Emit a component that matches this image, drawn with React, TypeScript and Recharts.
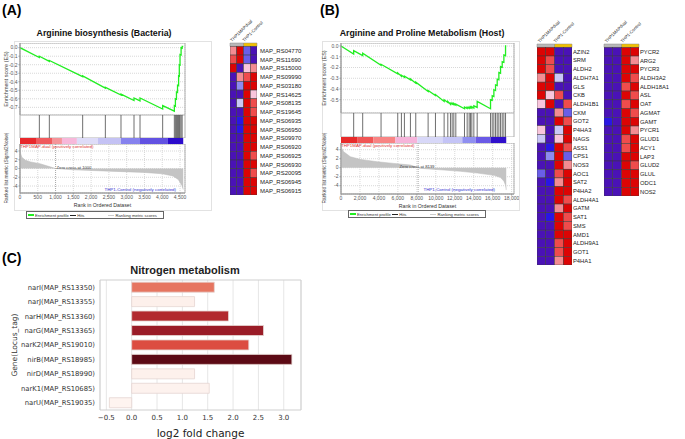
import React from "react"
import {
  LineChart, Line, AreaChart, Area, ComposedChart, ScatterChart, Scatter, BarChart, Bar, Cell,
  XAxis, YAxis, CartesianGrid, ReferenceLine, ReferenceArea,
} from "recharts"

const SANS = "'Liberation Sans', Arial, sans-serif"
const DEJAVU = "'DejaVu Sans', sans-serif"

// ---------- (A) Arginine biosynthesis (Bacteria) ----------
const hitsA = [544, 825, 1762, 2400, 2840, 3206, 3375, 4012, 4340, 4370, 4400, 4430, 4460, 4480, 4500, 4530, 4560]
const esBeforeA = [-0.115, -0.16, -0.34, -0.475, -0.555, -0.62, -0.625, -0.72, -0.745, -0.686, -0.606, -0.526, -0.446, -0.334, -0.204, -0.086, -0.006]
const esAfterA = [-0.1, -0.15, -0.33, -0.465, -0.545, -0.59, -0.59, -0.68, -0.68, -0.6, -0.52, -0.44, -0.33, -0.2, -0.08, 0, 0.015]
const esEndA = 4590
const rankA = [0, 10, 50, 150, 300, 560, 800, 1000, 1500, 2500, 3500, 4000, 4300, 4450, 4550, 4590]
const metricA = [4.7, 3.6, 2.6, 1.9, 1.5, 1.1, 0.5, 0, -0.3, -0.6, -0.9, -1.2, -1.7, -2.5, -3.8, -4.8]
const barStartA = [0, 450, 900, 1180, 1600, 2190, 2840, 3375, 4160]
const barEndA = [450, 900, 1180, 1600, 2190, 2840, 3375, 4160, 4590]
const barColorsA = ["#e8282c", "#f05a5e", "#f5949a", "#f7b8da", "#dedcf8", "#c4c2f4", "#8682ee", "#6252e2", "#2c0ccc"]
const xTicksA = [0, 500, 1000, 1500, 2000, 2500, 3000, 3500, 4000, 4500]
const esTicksA = [0, -0.1, -0.2, -0.3, -0.4, -0.5, -0.6, -0.7]
const zeroCrossA = 1000

// ---------- (B) Arginine and Proline Metabolism (Host) ----------
const hitsB = [1338, 2289, 4225, 5986, 6373, 6690, 7324, 7887, 9190, 9964, 10880, 11267, 11549, 11725, 11901, 12112, 13028, 13310, 13521, 13661, 13802, 14014, 14366, 15774, 15950, 16126, 16302, 16478, 16654, 16830, 17006, 17182, 17358]
const esBeforeB = [-0.074, -0.09, -0.179, -0.259, -0.281, -0.29, -0.315, -0.346, -0.423, -0.46, -0.515, -0.525, -0.543, -0.54, -0.546, -0.549, -0.583, -0.58, -0.58, -0.577, -0.577, -0.577, -0.571, -0.583, -0.506, -0.469, -0.414, -0.367, -0.315, -0.253, -0.198, -0.151, -0.09]
const esAfterB = [-0.043, -0.068, -0.17, -0.25, -0.272, -0.281, -0.306, -0.336, -0.414, -0.451, -0.5, -0.515, -0.531, -0.531, -0.534, -0.54, -0.568, -0.568, -0.568, -0.565, -0.565, -0.556, -0.515, -0.5, -0.463, -0.407, -0.361, -0.309, -0.247, -0.191, -0.145, -0.083, 0]
const esEndB = 17430
const rankB = [0, 280, 986, 2042, 3803, 5563, 7324, 8139, 8450, 10880, 12640, 14400, 16161, 16830, 17180, 17360, 17430]
const metricB = [4.6, 3.55, 2.44, 1.85, 1.33, 0.96, 0.59, 0, -0.15, -0.52, -0.81, -1.19, -1.7, -2.2, -2.96, -3.9, -4.96]
const barStartB = [0, 1700, 3400, 5740, 8060, 10700, 12800, 14200, 15770]
const barEndB = [1700, 3400, 5740, 8060, 10700, 12800, 14200, 15770, 17430]
const barColorsB = ["#e82a2a", "#f05555", "#f88484", "#f6b4da", "#d8d8f8", "#c4c4f6", "#8f8ff0", "#6a5ae6", "#3010cc"]
const xTicksB = [0, 2000, 4000, 6000, 8000, 10000, 12000, 14000, 16000, 18000]
const esTicksB = [0, -0.1, -0.2, -0.3, -0.4, -0.5]
const zeroCrossB = 8139

// ---------- heatmaps ----------
const heatGroups = ["THP1MAPdual", "THP1-Control"]
const heatGenesA = ["MAP_RS04770", "MAP_RS11690", "MAP_RS15000", "MAP_RS09990", "MAP_RS03180", "MAP_RS14625", "MAP_RS08135", "MAP_RS19645", "MAP_RS06935", "MAP_RS06950", "MAP_RS09970", "MAP_RS06920", "MAP_RS06925", "MAP_RS06930", "MAP_RS20095", "MAP_RS06945", "MAP_RS06915"]
const heatValuesA = [
  [1.5, 3, -2, -3], [2, 3, -2, -3], [3, -3, 1, 1.5], [-3, 1.5, 2, 3], [-3, -1.5, 3, 3],
  [-3, -3, 3, 1], [-3, -1, 3, 2], [-3, -3, 3, 2], [-3, -2.5, 3, 3], [-3, -2.5, 3, 3],
  [-3, -3, 3, 3], [-3, -3, 3, 3], [-3, -3, 3, 2], [-3, -3, 3, 3], [-3, -3, 3, 2],
  [-3, -3, 3, 3], [-3, -3, 3, 3],
]
const heatGenesB1 = ["AZIN2", "SRM", "ALDH2", "ALDH7A1", "GLS", "CKB", "ALDH1B1", "CKM", "GOT2", "P4HA3", "NAGS", "ASS1", "CPS1", "NOS3", "AOC1", "SAT2", "P4HA2", "ALDH4A1", "GATM", "SAT1", "SMS", "AMD1", "ALDH9A1", "GOT1", "P4HA1"]
const heatValuesB1 = [
  [3, 3, -3, -3], [3, 2, -3, -3], [3, 2, -3, -3], [1.5, 3, -1, -3], [3, 3, -3, -3],
  [3, 1, 2, -3], [1, 3, -3, 2], [-3, -3, 1.5, -2], [-3, -3, 3, 2], [1, -3, -1, 3],
  [-1, -3, 1, 3], [-3, -2.5, 3, 2], [-3, -1.5, 3, -2], [-3, -3, 3, 1.5], [-2, -3, 2, 3],
  [-3, -2.5, 1.5, 3], [-3, -3, 3, 3], [-3, -3, 3, 2], [-3, -3, 1.5, 3], [-3, -2.5, 3, 2],
  [-3, -3, 3, 2], [-3, -3, 3, 3], [-3, -3, 2, 3], [-3, -3, 2, 3], [-3, -3, 1.5, 3],
]
const heatGenesB2 = ["PYCR2", "ARG2", "PYCR3", "ALDH3A2", "ALDH18A1", "ASL", "OAT", "AGMAT", "GAMT", "PYCR1", "GLUD1", "ACY1", "LAP3", "GLUD2", "GLUL", "ODC1", "NOS2"]
const heatValuesB2 = [
  [-3, -3, 3, 3], [-3, -3, 3, 1.5], [-3, -3, 3, 3], [-3, -3, 3, 2], [-3, -3, 2, 3],
  [-3, -3, 3, 2], [-3, -3, 2, 3], [-3, -3, 3, 2], [-2.5, -3, 3, 3], [-3, -3, 3, 1.5],
  [-3, -3, 2, 3], [-3, -3, 2, 3], [-3, -3, 3, 3], [-3, -3, 3, 2], [-3, -3, 3, 3],
  [-3, -3, 3, 3], [-3, -3, 3, 3],
]

// ---------- (C) Nitrogen metabolism ----------
const genesC = ["narI(MAP_RS13350)", "narJ(MAP_RS13355)", "narH(MAP_RS13360)", "narG(MAP_RS13365)", "narK2(MAP_RS19010)", "nirB(MAP_RS18985)", "nirD(MAP_RS18990)", "narK1(MAP_RS10685)", "narU(MAP_RS19035)"]
const lfcC = [1.63, 1.24, 1.91, 2.6, 2.31, 3.16, 1.24, 1.53, -0.44]
const colorsC = ["#e67560", "#fdf0eb", "#b22a2e", "#9a1c27", "#dc4d41", "#5c0a15", "#fdf1ec", "#fdf2ee", "#fef4f0"]
const xTicksC = [-0.5, 0, 0.5, 1, 1.5, 2, 2.5, 3]

const heatColor = (v: number) => {
  if (v <= -3) return "#4a12b6"
  if (v <= -2.5) return "#2a16e4"
  if (v <= -2) return "#6a5ee8"
  if (v <= -1.5) return "#8e8af0"
  if (v <= -1) return "#cac8f6"
  if (v <= 1) return "#f8c6dc"
  if (v <= 1.5) return "#f38c92"
  if (v <= 2) return "#ef4c4c"
  return "#dc0404"
}

const esPoints = (hits: number[], before: number[], after: number[], end: number) => {
  const pts = [{ rank: 0, es: 0 }]
  hits.forEach((h, i) => {
    pts.push({ rank: h, es: before[i] })
    pts.push({ rank: h, es: after[i] })
  })
  pts.push({ rank: end, es: after[after.length - 1] })
  return pts
}

const tickStyle = { fontSize: 5, fill: "#555", fontFamily: SANS }
const fmtRank = (v: number) => v.toLocaleString("en-US")

function Abs({ left, top, children }: any) {
  return <div style={{ position: "absolute", left, top }}>{children}</div>
}

function Txt({ x, y, size = 5, color = "#333", anchor = "left", rotate = false, bold = false, children }: any) {
  const tx = anchor === "center" ? "-50%" : anchor === "right" ? "-100%" : "0"
  return (
    <div
      style={{
        position: "absolute", left: x, top: y, whiteSpace: "nowrap", fontSize: size, color,
        fontFamily: SANS, fontWeight: bold ? "bold" : "normal", lineHeight: 1,
        transform: `translate(${tx}, -50%)${rotate ? " rotate(-90deg)" : ""}`,
      }}
    >
      {children}
    </div>
  )
}

function GseaLegend({ left, top }: { left: number; top: number }) {
  const item = (color: string, h: number, label: string, gap: number) => (
    <div style={{ display: "flex", alignItems: "center", whiteSpace: "nowrap", marginRight: gap }}>
      <span style={{ display: "inline-block", width: 6, height: h, background: color, marginRight: 1 }} />
      <span>{label}</span>
    </div>
  )
  return (
    <div style={{ position: "absolute", left, top, width: 138, height: 8, border: "1px solid #666", fontSize: 4.2, color: "#333", fontFamily: SANS, boxSizing: "border-box", display: "flex", alignItems: "center", paddingLeft: 1, overflow: "hidden" }}>
      {item("#22ee22", 1.5, "Enrichment profile", 1.5)}
      {item("#222", 1, "Hits", 24)}
      {item("#ccc", 1, "Ranking metric scores", 0)}
    </div>
  )
}

function GseaPanel(p: any) {
  const es = esPoints(p.hits, p.before, p.after, p.end)
  const ranked = p.rank.map((r: number, i: number) => ({ rank: r, m: p.metric[i] }))
  const hitData = p.hits.map((h: number) => ({ rank: h, y: 0.5 }))
  const dom = [0, p.xMax]
  const W = p.width
  const YW = p.yWidth
  return (
    <>
      <Abs left={p.left} top={p.esTop}>
        <LineChart width={W} height={p.esH} data={es} margin={{ top: 0, right: 5, bottom: 0, left: 0 }}>
          <CartesianGrid stroke="#d8d8d8" strokeDasharray="1 1" />
          <XAxis type="number" dataKey="rank" domain={dom} ticks={p.xTicks} height={0} tick={false} axisLine={false} tickLine={false} allowDataOverflow />
          <YAxis type="number" domain={p.esDomain} ticks={p.esTicks} width={YW} tick={tickStyle} tickFormatter={(v: number) => v.toFixed(1)} tickSize={1.5} tickMargin={1} axisLine={{ stroke: "#999" }} tickLine={{ stroke: "#999" }} allowDataOverflow interval={0} />
          <ReferenceArea x1={0} x2={p.xMax} fill="none" stroke="#b0b0b0" />
          <Line type="linear" dataKey="es" stroke="#22ee22" strokeWidth={1.3} dot={false} isAnimationActive={false} />
        </LineChart>
      </Abs>
      <Abs left={p.left} top={p.hitsTop}>
        <ComposedChart width={W} height={p.hitsH} data={hitData} margin={{ top: 0, right: 5, bottom: 0, left: YW }}>
          <XAxis type="number" dataKey="rank" domain={dom} hide allowDataOverflow />
          <YAxis type="number" domain={[0, 1]} hide />
          <Line dataKey="y" stroke="none" dot={false} isAnimationActive={false} />
          {p.hits.map((h: number) => (
            <ReferenceLine key={h} x={h} stroke="#4a4a4a" strokeWidth={0.8} />
          ))}
          <ReferenceArea x1={0} x2={p.xMax} fill="none" stroke="#b0b0b0" />
        </ComposedChart>
      </Abs>
      <Abs left={p.left} top={p.barTop}>
        <ComposedChart width={W} height={p.barH} data={hitData} margin={{ top: 0, right: 5, bottom: 0, left: YW }}>
          <XAxis type="number" dataKey="rank" domain={dom} hide allowDataOverflow />
          <YAxis type="number" domain={[0, 1]} hide />
          <Line dataKey="y" stroke="none" dot={false} isAnimationActive={false} />
          {p.barStart.map((s: number, i: number) => (
            <ReferenceArea key={s} x1={s} x2={p.barEnd[i]} fill={p.barColors[i]} fillOpacity={1} stroke="none" />
          ))}
        </ComposedChart>
      </Abs>
      <Abs left={p.left} top={p.rankTop}>
        <AreaChart width={W} height={p.rankH} data={ranked} margin={{ top: 0, right: 5, bottom: 0, left: 0 }}>
          <CartesianGrid stroke="#d8d8d8" strokeDasharray="1 1" />
          <XAxis type="number" dataKey="rank" domain={dom} ticks={p.xTicks} height={14} tick={tickStyle} tickFormatter={fmtRank} tickSize={1.5} tickMargin={1} axisLine={{ stroke: "#999" }} tickLine={{ stroke: "#999" }} interval={0} allowDataOverflow
            label={{ value: "Rank in Ordered Dataset", position: "insideBottom", offset: 0, style: { fontSize: 5.2, fill: "#333", fontFamily: SANS } }} />
          <YAxis type="number" domain={p.rankDomain} ticks={[-4, -2, 0, 2, 4]} width={YW} tick={tickStyle} tickSize={1.5} tickMargin={1} axisLine={{ stroke: "#999" }} tickLine={{ stroke: "#999" }} interval={0} allowDataOverflow />
          <ReferenceArea x1={0} x2={p.xMax} fill="none" stroke="#b0b0b0" />
          <Area type="linear" dataKey="m" baseValue={0} stroke="#b8b8b8" strokeWidth={0.5} fill="#c4c4c4" fillOpacity={1} isAnimationActive={false} />
          <ReferenceLine x={p.zero} stroke="#aaa" strokeDasharray="1 1" />
        </AreaChart>
      </Abs>
    </>
  )
}

function HeaderTick(props: any) {
  const { x, y, index } = props
  return (
    <text x={x} y={y} transform={`rotate(-45 ${x} ${y})`} fontSize={4.4} fontFamily={SANS} fill="#222" textAnchor="start">
      {heatGroups[index]}
    </text>
  )
}

function Heatmap({ left, top, width, height, genes, values, plotTop, marginBottom, labelWidth, labelGap, labelSize }: any) {
  const data = values.flatMap((row: number[], r: number) => row.map((v, c) => ({ col: c, row: r, v })))
  const plotW = width - 5 - labelWidth
  const plotH = height - plotTop - marginBottom
  const cellW = plotW / 4
  const cellH = plotH / (genes.length + 0.38)
  return (
    <Abs left={left} top={top}>
      <ScatterChart width={width} height={height} margin={{ top: 0, right: 0, bottom: marginBottom, left: 5 }}>
        <XAxis type="number" dataKey="col" domain={[-0.5, 3.5]} orientation="top" height={plotTop} ticks={[-0.2, 1.6]} tick={<HeaderTick />} axisLine={false} tickLine={false} tickSize={0} tickMargin={1} interval={0} allowDataOverflow />
        <YAxis type="number" dataKey="row" domain={[-0.88, genes.length - 0.5]} reversed orientation="right" width={labelWidth}
          ticks={genes.map((_: string, i: number) => i)} tickFormatter={(i: number) => genes[i]} interval={0}
          axisLine={false} tickLine={false} tickSize={0} tickMargin={labelGap} allowDataOverflow
          tick={{ fontSize: labelSize, fill: "#222", fontFamily: SANS }} />
        <ReferenceArea x1={-0.5} x2={1.5} y1={-0.88} y2={-0.5} fill="#b8b8b8" fillOpacity={1} stroke="#888" strokeWidth={0.5} />
        <ReferenceArea x1={1.5} x2={3.5} y1={-0.88} y2={-0.5} fill="#f2c200" fillOpacity={1} stroke="#888" strokeWidth={0.5} />
        <Scatter
          data={data}
          isAnimationActive={false}
          shape={(s: any) => (
            <rect x={s.cx - cellW / 2} y={s.cy - cellH / 2} width={cellW} height={cellH} fill={heatColor(s.payload.v)} stroke="#3a3a3a" strokeWidth={0.5} />
          )}
        />
      </ScatterChart>
    </Abs>
  )
}

export default function App() {
  const dataC = genesC.map((g, i) => ({ gene: g, lfc: lfcC[i] }))
  return (
    <div style={{ position: "absolute", left: 0, top: 0, width: 685, height: 439, background: "#fff", overflow: "hidden", fontFamily: SANS }}>
      {/* panel letters and titles */}
      <Txt x={2} y={10} size={14} bold color="#000">(A)</Txt>
      <Txt x={320} y={10} size={14} bold color="#000">(B)</Txt>
      <Txt x={2} y={258} size={14} bold color="#000">(C)</Txt>
      <Txt x={104} y={33} size={8.8} bold anchor="center" color="#111">Arginine biosynthesis (Bacteria)</Txt>
      <Txt x={422} y={33} size={8.8} bold anchor="center" color="#111">Arginine and Proline Metabolism (Host)</Txt>

      {/* GSEA frames */}
      <div style={{ position: "absolute", left: 14, top: 41, width: 196, height: 168, border: "1px solid #e2e2e2" }} />
      <div style={{ position: "absolute", left: 322, top: 41, width: 196, height: 168, border: "1px solid #e2e2e2" }} />

      <GseaPanel
        left={0} width={190} yWidth={20} xMax={4640} xTicks={xTicksA}
        hits={hitsA} before={esBeforeA} after={esAfterA} end={esEndA}
        rank={rankA} metric={metricA} zero={zeroCrossA}
        barStart={barStartA} barEnd={barEndA} barColors={barColorsA}
        esTop={43} esH={72} esDomain={[-0.79, 0.055]} esTicks={esTicksA}
        hitsTop={115} hitsH={23} barTop={138} barH={6}
        rankTop={144} rankH={63} rankDomain={[-5.6, 5.6]}
      />
      <GseaPanel
        left={320} width={199} yWidth={21} xMax={18250} xTicks={xTicksB}
        hits={hitsB} before={esBeforeB} after={esAfterB} end={esEndB}
        rank={rankB} metric={metricB} zero={zeroCrossB}
        barStart={barStartB} barEnd={barEndB} barColors={barColorsB}
        esTop={43} esH={70} esDomain={[-0.623, 0.028]} esTicks={esTicksB}
        hitsTop={113} hitsH={24} barTop={137} barH={6}
        rankTop={143} rankH={65} rankDomain={[-5.84, 5.49]}
      />

      {/* GSEA annotations */}
      <Txt x={7} y={79} size={5.5} color="#444" anchor="center" rotate>Enrichment score (ES)</Txt>
      <Txt x={7} y={168} size={4.8} color="#444" anchor="center" rotate>Ranked list metric (Signal2Noise)</Txt>
      <Txt x={20} y={147} size={4.4} color="#e03030">THP1MAP-dual (positively correlated)</Txt>
      <Txt x={176} y={190} size={4.4} color="#3030d0" anchor="right">THP1-Control (negatively correlated)</Txt>
      <Txt x={74} y={168} size={4.2} color="#444" anchor="center">Zero cross at 1000</Txt>

      <Txt x={325} y={78} size={5.5} color="#444" anchor="center" rotate>Enrichment score (ES)</Txt>
      <Txt x={325} y={168} size={4.8} color="#444" anchor="center" rotate>Ranked list metric (Signal2Noise)</Txt>
      <Txt x={341} y={146} size={4.4} color="#e03030">THP1MAP-dual (positively correlated)</Txt>
      <Txt x={495} y={190} size={4.4} color="#3030d0" anchor="right">THP1-Control (negatively correlated)</Txt>
      <Txt x={417} y={167} size={4.2} color="#444" anchor="center">Zero cross at 8139</Txt>

      <GseaLegend left={26} top={211} />
      <GseaLegend left={348} top={210} />

      {/* heatmaps */}
      <Heatmap left={225} top={6} width={95} height={192} genes={heatGenesA} values={heatValuesA} plotTop={37} marginBottom={3} labelWidth={63} labelGap={3} labelSize={6} />
      <Heatmap left={532} top={6} width={70} height={262} genes={heatGenesB1} values={heatValuesB1} plotTop={38} marginBottom={3} labelWidth={30} labelGap={1} labelSize={5.8} />
      <Heatmap left={599} top={6} width={86} height={192} genes={heatGenesB2} values={heatValuesB2} plotTop={38} marginBottom={2} labelWidth={46} labelGap={1} labelSize={5.8} />

      {/* (C) */}
      <Txt x={185} y={270} size={11} bold anchor="center" color="#222">Nitrogen metabolism</Txt>
      <div style={{ position: "absolute", left: 15, top: 345, whiteSpace: "nowrap", fontSize: 7.5, color: "#333", fontFamily: DEJAVU, lineHeight: 1, transform: "translate(-50%, -50%) rotate(-90deg)" }}>
        Gene(Locus_tag)
      </div>
      <Abs left={0} top={262}>
        <BarChart width={310} height={177} data={dataC} layout="vertical" margin={{ top: 18, right: 9, bottom: 0, left: 15 }} barCategoryGap="15%">
          <CartesianGrid horizontal={false} stroke="#e6e6e6" strokeWidth={1} />
          <XAxis type="number" dataKey="lfc" domain={[-0.625, 3.34]} ticks={xTicksC} tickFormatter={(v: number) => v.toFixed(1).replace("-", "\u2212")}
            height={29} axisLine={false} tickLine={false} tickSize={0} tickMargin={5} interval={0} allowDataOverflow
            tick={{ fontSize: 7, fill: "#333", fontFamily: DEJAVU }}
            label={{ value: "log2 fold change", position: "insideBottom", offset: 2, style: { fontSize: 10.5, fill: "#222", fontFamily: DEJAVU } }} />
          <YAxis type="category" dataKey="gene" width={85} axisLine={false} tickLine={false} tickSize={0} tickMargin={5} interval={0}
            tick={{ fontSize: 6.8, fill: "#333", fontFamily: DEJAVU }} />
          <ReferenceArea x1={-0.625} x2={3.34} fill="none" stroke="#cfcfcf" strokeWidth={1} />
          <Bar dataKey="lfc" isAnimationActive={false} stroke="#e6d6d2" strokeWidth={0.8}>
            {dataC.map((d, i) => (
              <Cell key={d.gene} fill={colorsC[i]} />
            ))}
          </Bar>
        </BarChart>
      </Abs>
    </div>
  )
}
